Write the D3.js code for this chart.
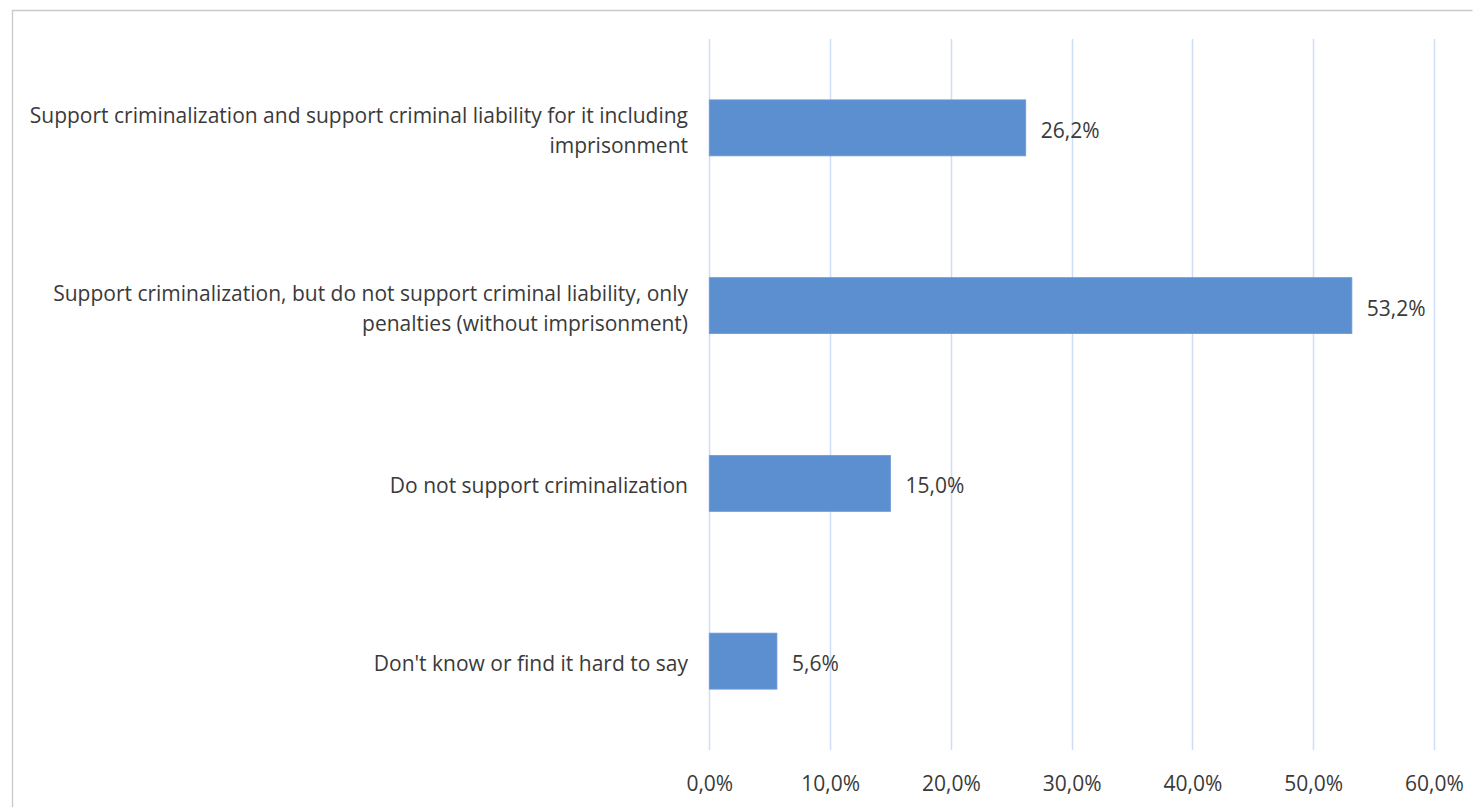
<!DOCTYPE html>
<html>
<head>
<meta charset="utf-8">
<script src="https://cdn.jsdelivr.net/npm/d3@7"></script>
<style>
  body { margin: 0; background: #fff; }
  svg text { font-family: "Open Sans", "Noto Sans", sans-serif; fill: #3a3a3a; }
</style>
</head>
<body>
<div id="chartArea"></div>
<script>
// categories (line breaks as in the original chart)
const categories = [
  'Support criminalization and support criminal liability for it including\nimprisonment',
  'Support criminalization, but do not support criminal liability, only\npenalties (without imprisonment)',
  'Do not support criminalization',
  "Don't know or find it hard to say"
]
const shares = [26.2, 53.2, 15.0, 5.6]
const tickValues = [0, 10, 20, 30, 40, 50, 60]

const width = 1473
const height = 807
const plot = { left: 709.3, right: 1434, top: 39, bottom: 750 }
const fontSize = 21

const fmt = v => v.toFixed(1).replace('.', ',') + '%'

let svg = d3.select('#chartArea').append('svg')
  .attr('width', width)
  .attr('height', height)

// outer frame
svg.append('path')
  .attr('d', 'M12.5,' + height + 'V10.5H1472.5')
  .attr('fill', 'none')
  .attr('stroke', '#c9c9c9')
  .attr('stroke-width', 1.3)

let x = d3.scaleLinear()
  .domain([0, 60])
  .range([plot.left, plot.right])

let y = d3.scaleBand()
  .domain(categories)
  .range([plot.top, plot.bottom])
  .padding(0)

const barH = y.bandwidth() * 0.315

// gridlines
svg.append('g')
  .selectAll('line')
  .data(tickValues)
  .enter()
  .append('line')
  .attr('x1', d => Math.round(x(d)) + 0.5)
  .attr('x2', d => Math.round(x(d)) + 0.5)
  .attr('y1', plot.top)
  .attr('y2', plot.bottom)
  .attr('stroke', '#d0ddf7')
  .attr('stroke-width', 1.5)

// bars
svg.append('g')
  .selectAll('rect')
  .data(shares)
  .enter()
  .append('rect')
  .attr('x', x(0))
  .attr('y', (d, i) => y(categories[i]) + y.bandwidth() / 2 - barH / 2)
  .attr('width', d => x(d) - x(0))
  .attr('height', barH)
  .attr('fill', '#5b8fd0')
  .attr('stroke', '#6d9bd6')
  .attr('stroke-width', 0.8)

// value labels
svg.append('g')
  .selectAll('text')
  .data(shares)
  .enter()
  .append('text')
  .attr('x', d => x(d) + 15)
  .attr('y', (d, i) => y(categories[i]) + y.bandwidth() / 2 + 2)
  .attr('dominant-baseline', 'central')
  .attr('font-size', fontSize)
  .text(fmt)

// category labels
let cat = svg.append('g')
  .selectAll('text')
  .data(categories)
  .enter()
  .append('text')
  .attr('text-anchor', 'end')
  .attr('font-size', fontSize)

cat.each(function (d) {
  let lines = d.split('\n')
  let cy = y(d) + y.bandwidth() / 2 + 2
  let t = d3.select(this)
  lines.forEach((ln, j) => {
    t.append('tspan')
      .attr('x', 688)
      .attr('y', cy + (j - (lines.length - 1) / 2) * 30)
      .attr('dominant-baseline', 'central')
      .text(ln)
  })
})

// x axis labels
let xAxis = d3.axisBottom(x)
  .tickValues(tickValues)
  .tickFormat(d => fmt(d))
  .tickSize(0)
  .tickPadding(0)

let ax = svg.append('g')
  .attr('transform', 'translate(0,' + 783 + ')')
  .call(xAxis)
ax.select('.domain').remove()
ax.selectAll('text')
  .attr('font-size', fontSize)
  .attr('dy', null)
  .attr('y', 0)
  .attr('dominant-baseline', 'central')
  .style('font-family', '"Open Sans", "Noto Sans", sans-serif')
  .style('fill', '#3a3a3a')
</script>
</body>
</html>
